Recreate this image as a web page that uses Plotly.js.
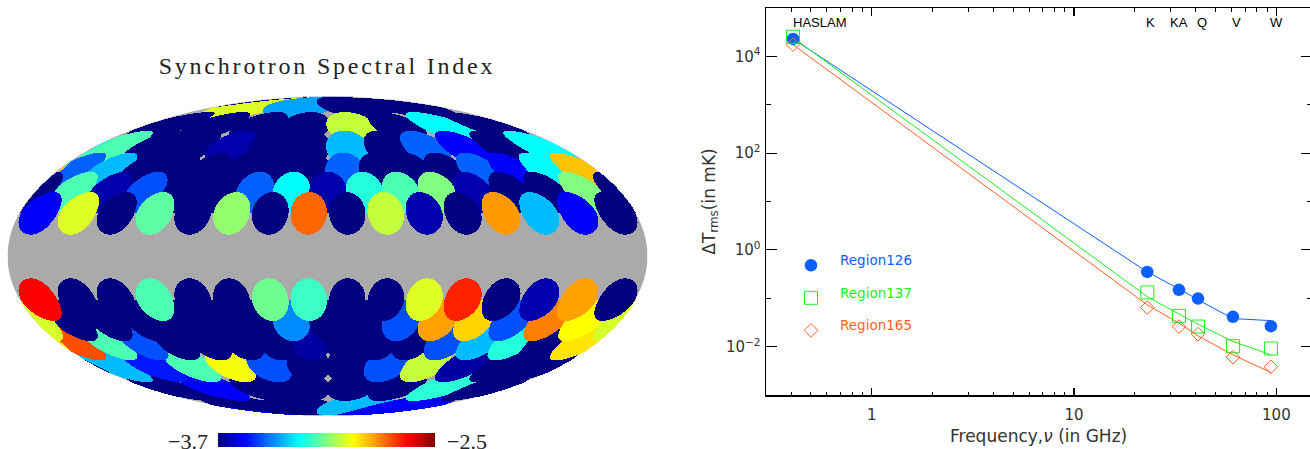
<!DOCTYPE html>
<html><head><meta charset="utf-8">
<script src="https://cdn.plot.ly/plotly-3.0.1.min.js"></script>
<style>
html,body{margin:0;padding:0;background:#fff;overflow:hidden;width:1310px;height:449px}
#chart{width:1312px;height:449px}
.gtitle{letter-spacing:2.8px}
.legendtext{transform:translateY(-5.5px)}
</style></head><body><div id="chart"></div>
<script>
// ---------- Right panel: spectra ----------
const freq = [0.408, 23, 33, 41, 61, 94];
const r126Points = [23000, 0.35, 0.149, 0.0986, 0.0413, 0.0265];
const r137Points = [25500, 0.132, 0.0433, 0.026, 0.0102, 0.00914];
const r165Points = [17500, 0.0643, 0.026, 0.0181, 0.00607, 0.00383];
const r126Model = [23000, 0.35, 0.156, 0.0927, 0.038, 0.0345];
const r137Model = [24500, 0.108, 0.047, 0.029, 0.0128, 0.00676];
const r165Model = [17500, 0.073, 0.0306, 0.0167, 0.00676, 0.00292];
const bandNames = ["HASLAM", "K", "KA", "Q", "V", "W"];
const bandLabelFreq = [0.406, 24, 33, 43, 63.4, 99.7];
const xMajor = [1, 10, 100];
const xMajorText = ["1", "10", "100"];
const xMinor = [0.4,0.5,0.6,0.7,0.8,0.9,2,3,4,5,6,7,8,9,20,30,40,50,60,70,80,90];
const yMajor = [0.01, 1, 100, 10000];
const yMajorText = ["10<sup>\u22122</sup>", "10<sup>0</sup>", "10<sup>2</sup>", "10<sup>4</sup>"];
const yMinor = [0.1, 10, 1000];

// ---------- Left panel: regions (lon in deg per row, value per region) ----------
const lons20 = [-168.75,-146.25,-123.75,-101.25,-78.75,-56.25,-33.75,-11.25,11.25,33.75,56.25,78.75,101.25,123.75,146.25,168.75];
const lons30 = [-157.5,-135,-112.5,-90,-67.5,-45,-22.5,0,22.5,45,67.5,90,112.5,135,157.5,180];
const lons40 = lons20;
const lons52 = [-165,-135,-105,-75,-45,-15,15,45,75,105,135,165];
const lons65 = [-157.5,-112.5,-67.5,-22.5,22.5,67.5,112.5,157.5];
const lons80 = [-125,-45,45,125];
const n = -3.70;
const north20 = [-3.56,-2.99,n,-3.14,n,-3.08,n,-2.77,n,-3.02,-3.65,n,-2.83,-3.33,-3.56,n];
const north30 = [-3.16,-3.65,-3.46,n,n,-3.44,-3.25,-3.65,-3.21,-3.16,-3.10,-3.65,n,n,-3.10,n];
const north40 = [-3.44,-3.33,n,n,n,n,n,n,-3.44,n,n,n,-3.44,-3.56,-3.25,-2.88];
const north52 = [-3.16,n,n,-3.65,n,n,-3.33,n,-3.44,-3.56,n,-3.25];
const north65 = [n,n,n,n,-3.02,n,-3.25,n];
const north80 = [-2.99,-3.36,n,n];
const south20 = [-2.65,n,n,-3.16,n,n,-3.12,-3.18,n,n,-2.99,-2.69,n,-3.65,-2.84,n];
const south30 = [n,n,n,n,n,n,-3.39,n,n,-3.46,-2.84,-2.90,-3.46,-2.80,-2.95,-3.00];
const south40 = [-2.74,-3.16,-3.46,n,n,n,n,-3.66,n,n,n,-3.46,-3.33,-3.21,n,-2.92];
const south52 = [-3.33,-3.53,-3.16,-2.96,-3.46,n,n,-3.46,-3.02,-3.66,n,n];
const south65 = [n,-3.56,n,n,n,n,-3.20,n];
const south80 = [n,n,-3.33,-3.56];
const discRadius = 10;

// paint order: poles first, rows next to the galactic cut last
const rows = [
 [80,lons80,north80],[-80,lons80,south80],
 [65,lons65,north65],[-65,lons65,south65],
 [52.5,lons52,north52],[-52.5,lons52,south52],
 [40,lons40,north40],[-40,lons40,south40],
 [30,lons30,north30],[-30,lons30,south30],
 [20,lons20,north20],[-20,lons20,south20]
];

const D = Math.PI/180;
const discs = [];
rows.forEach(([lat,ls,vs]) => ls.forEach((lo,i) => discs.push({
  x:Math.cos(lat*D)*Math.cos(lo*D), y:Math.cos(lat*D)*Math.sin(lo*D), z:Math.sin(lat*D), v:vs[i]})));
const cosR = Math.cos(discRadius*D);

const NX = 640, NY = 319;
const gx = [], gy = [], gz = [];
for (let i=0;i<NX;i++) gx.push(-1+(i+0.5)*2/NX);
for (let j=0;j<NY;j++) gy.push(-1+(j+0.5)*2/NY);
for (let j=0;j<NY;j++) {
  const row = new Array(NX).fill(null);
  const th = Math.asin(gy[j]);
  const sphi = (2*th+Math.sin(2*th))/Math.PI, cphi = Math.sqrt(Math.max(0,1-sphi*sphi));
  for (let i=0;i<NX;i++) {
    const lam = Math.PI*gx[i]/Math.cos(th);
    if (Math.abs(lam)>Math.PI) continue;
    const px=cphi*Math.cos(lam), py=cphi*Math.sin(lam), pz=sphi;
    for (let k=discs.length-1;k>=0;k--) {
      const d=discs[k];
      if (d.x*px+d.y*py+d.z*pz>=cosR){row[i]=d.v;break;}
    }
  }
  gz.push(row);
}

const W=1312,H=449;
const jet=[[0,'#000080'],[0.12,'#0000ff'],[0.375,'#00ffff'],[0.625,'#ffff00'],[0.875,'#ff0000'],[1,'#800000']];
const BLUE='#0b5fff',GREEN='#1cf01c',ORANGE='#ff5f24';
const sans='"DejaVu Sans", sans-serif', narrow='"Liberation Sans", Arial, sans-serif', serif='"Liberation Serif", serif';

const traces=[
 {type:'heatmap',x:gx,y:gy,z:gz,xaxis:'x',yaxis:'y',zmin:-3.7,zmax:-2.5,colorscale:jet,hoverongaps:false,
  colorbar:{orientation:'h',xref:'container',yref:'container',x:326.5/W,xanchor:'center',y:(449-433)/449,yanchor:'top',
    lenmode:'pixels',len:217,thicknessmode:'pixels',thickness:14,outlinewidth:0,showticklabels:false,ticks:'',xpad:0,ypad:0}},
 {type:'scatter',mode:'lines',x:freq,y:r126Model,xaxis:'x2',yaxis:'y2',line:{color:BLUE,width:1},showlegend:false},
 {type:'scatter',mode:'lines',x:freq,y:r137Model,xaxis:'x2',yaxis:'y2',line:{color:GREEN,width:1},showlegend:false},
 {type:'scatter',mode:'lines',x:freq,y:r165Model,xaxis:'x2',yaxis:'y2',line:{color:ORANGE,width:1},showlegend:false},
 {type:'scatter',mode:'markers',x:freq,y:r126Points,xaxis:'x2',yaxis:'y2',name:'<span style="color:'+BLUE+'">Region126</span>',legendgroup:'a',
  marker:{symbol:'circle',size:12.5,color:BLUE}},
 {type:'scatter',mode:'markers',x:freq,y:r137Points,xaxis:'x2',yaxis:'y2',name:'<span style="color:'+GREEN+'">Region137</span>',legendgroup:'b',
  marker:{symbol:'square-open',size:13,color:GREEN,line:{width:1,color:GREEN}}},
 {type:'scatter',mode:'markers',x:freq,y:r165Points,xaxis:'x2',yaxis:'y2',name:'<span style="color:'+ORANGE+'">Region165</span>',legendgroup:'c',
  marker:{symbol:'diamond-open',size:10.5,color:ORANGE,line:{width:1,color:ORANGE}}}
];

const annotations=[
 {text:'\u22123.7',xref:'paper',yref:'paper',x:187.5/W,y:1-441/H,xanchor:'center',yanchor:'middle',showarrow:false,font:{family:serif,size:22,color:'#222'}},
 {text:'\u22122.5',xref:'paper',yref:'paper',x:467/W,y:1-441/H,xanchor:'center',yanchor:'middle',showarrow:false,font:{family:serif,size:22,color:'#222'}},
 {text:'Frequency,<i>\u03bd</i> (in GHz)',xref:'paper',yref:'paper',x:1038.5/W,y:1-436/H,xanchor:'center',yanchor:'middle',showarrow:false,font:{family:sans,size:17,color:'#333'}}
];
bandNames.forEach((b,i)=>annotations.push({text:b,xref:'x2',yref:'paper',x:Math.log10(bandLabelFreq[i]),y:1-23/H,
  xanchor:i===0?'left':'center',xshift:i===0?-2:0,yanchor:'middle',showarrow:false,font:{family:narrow,size:13,color:'#000'}}));

const layout={
 width:W,height:H,autosize:false,paper_bgcolor:'#fff',plot_bgcolor:'rgba(0,0,0,0)',
 margin:{l:0,r:0,t:0,b:0,autoexpand:false},showlegend:true,
 title:{text:'Synchrotron Spectral Index',xref:'paper',yref:'container',x:327/W,xanchor:'center',y:1-66/H,yanchor:'middle',
   font:{family:serif,size:24,color:'#222'}},
 xaxis:{domain:[7.5/W,647.5/W],range:[-1,1],visible:false,fixedrange:true},
 yaxis:{domain:[1-415.5/H,1-96.5/H],range:[-1,1],visible:false,fixedrange:true},
 shapes:[{type:'circle',xref:'x',yref:'y',x0:-1,x1:1,y0:-1,y1:1,layer:'below',fillcolor:'#aaaaaa',line:{width:0}}],
 xaxis2:{type:'log',domain:[766/W,1],range:[Math.log10(0.3),Math.log10(150)],anchor:'y2',showgrid:false,zeroline:false,
   showline:true,linecolor:'#000',linewidth:1.5,mirror:'allticks',ticks:'inside',ticklen:7.5,tickwidth:1.2,tickcolor:'#000',
   tickmode:'array',tickvals:xMajor,ticktext:xMajorText,ticklabelstandoff:5,tickfont:{family:sans,size:15,color:'#333'},
   minor:{tickmode:'array',tickvals:xMinor,ticks:'inside',ticklen:3.5,tickwidth:1,tickcolor:'#000',showgrid:false}},
 yaxis2:{type:'log',domain:[1-395/H,1-8/H],range:[-3,5],anchor:'x2',showgrid:false,zeroline:false,
   showline:true,linecolor:'#000',linewidth:1.5,mirror:'allticks',ticks:'inside',ticklen:11,tickwidth:1.2,tickcolor:'#000',
   tickmode:'array',tickvals:yMajor,ticktext:yMajorText,ticklabelstandoff:1,tickfont:{family:sans,size:15,color:'#333'},
   minor:{tickmode:'array',tickvals:yMinor,ticks:'inside',ticklen:5.3,tickwidth:1,tickcolor:'#000',showgrid:false},
   title:{text:'\u0394T<sub>rms</sub>(in mK)',font:{family:sans,size:17,color:'#333'},standoff:6}},
 legend:{x:782/W,xanchor:'left',y:1-250/H,yanchor:'top',bgcolor:'rgba(0,0,0,0)',borderwidth:0,itemwidth:48,itemsizing:'trace',
   tracegroupgap:12,traceorder:'grouped',font:{family:sans,size:13.5},itemclick:false,itemdoubleclick:false},
 annotations
};
Plotly.newPlot('chart',traces,layout,{displayModeBar:false,staticPlot:true});
</script></body></html>
